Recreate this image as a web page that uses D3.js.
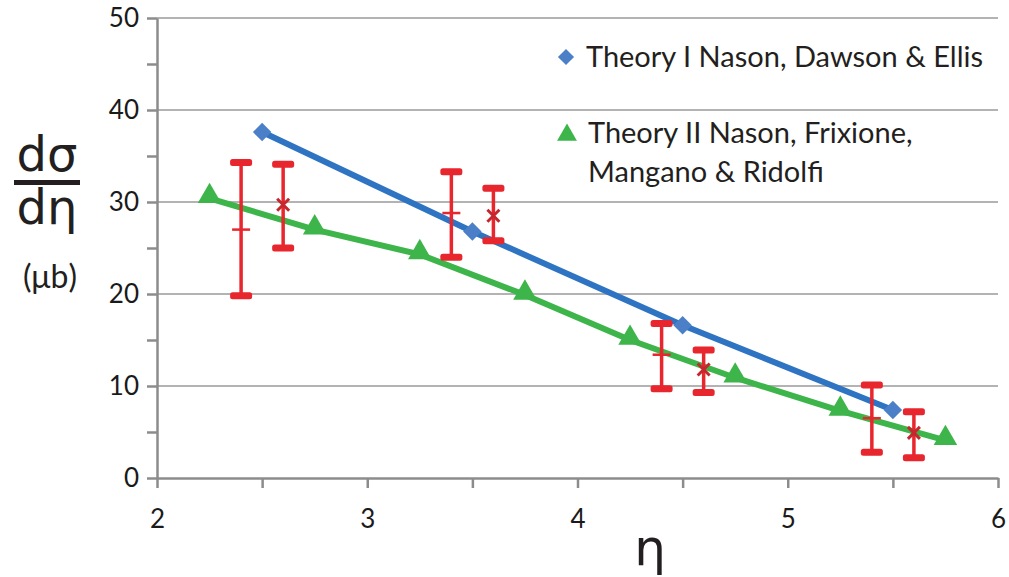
<!DOCTYPE html>
<html>
<head>
<meta charset="utf-8">
<script src="https://cdn.jsdelivr.net/npm/d3@7"></script>
<style>
  html, body { margin: 0; padding: 0; background: #fff; }
  svg { display: block; font-family: Lato, "Open Sans", sans-serif; }
</style>
</head>
<body>
<svg id="chart" width="1009" height="577"></svg>
<script>
// Theory I (Nason, Dawson & Ellis)
const theory1Eta = [2.5, 3.5, 4.5, 5.5];
const theory1Val = [37.6, 26.8, 16.6, 7.4];

// Theory II (Nason, Frixione, Mangano & Ridolfi)
const theory2Eta = [2.25, 2.75, 3.25, 3.75, 4.25, 4.75, 5.25, 5.75];
const theory2Val = [30.4, 27.0, 24.3, 19.9, 15.0, 10.9, 7.3, 4.1];

// Measurements with error bars: "+" marked points
const plusEta  = [2.4, 3.4, 4.4, 5.4];
const plusVal  = [27.0, 28.8, 13.4, 6.5];
const plusHigh = [34.3, 33.3, 16.8, 10.1];
const plusLow  = [19.8, 24.0, 9.7, 2.8];

// Measurements with error bars: "x" marked points
const crossEta  = [2.6, 3.6, 4.6, 5.6];
const crossVal  = [29.7, 28.5, 11.8, 4.9];
const crossHigh = [34.1, 31.5, 13.9, 7.2];
const crossLow  = [25.0, 25.8, 9.3, 2.2];

const xTicks = [2, 3, 4, 5, 6];
const xMinorTicks = [2.5, 3.5, 4.5, 5.5];
const yTicks = [0, 10, 20, 30, 40, 50];
const yMinorTicks = [5, 15, 25, 35, 45];

const legendLabels = ["Theory I Nason, Dawson & Ellis", "Theory II Nason, Frixione,", "Mangano & Ridolfi"];

const svg = d3.select("#chart");
const x = d3.scaleLinear().domain([2, 6]).range([157, 998]);
const y = d3.scaleLinear().domain([0, 50]).range([478, 18]);

const gray = "#8c8c8c";
const blue = "#2f74c2";
const blueMark = "#4b80c8";
const green = "#3db54a";
const red = "#e8262d";
const darkRed = "#c4272e";

// horizontal gridlines
svg.append("g").selectAll("line").data(yTicks.filter(d => d > 0)).join("line")
  .attr("x1", x(2)).attr("x2", x(6))
  .attr("y1", d => y(d)).attr("y2", d => y(d))
  .attr("stroke", "#9a9a9a").attr("stroke-width", 1.6);

// y axis
svg.append("g").attr("transform", `translate(${x(2)},0)`)
  .call(d3.axisLeft(y).tickValues(yTicks).tickFormat(d3.format("d")).tickSize(10).tickSizeOuter(0).tickPadding(8));
svg.append("g").attr("transform", `translate(${x(2)},0)`)
  .call(d3.axisLeft(y).tickValues(yMinorTicks).tickSize(10).tickSizeOuter(0).tickFormat(""))
  .select(".domain").remove();

// x axis
svg.append("g").attr("transform", `translate(0,${y(0)})`)
  .call(d3.axisBottom(x).tickValues(xTicks).tickFormat(d3.format("d")).tickSize(10).tickSizeOuter(0).tickPadding(22));
svg.append("g").attr("transform", `translate(0,${y(0)})`)
  .call(d3.axisBottom(x).tickValues(xMinorTicks).tickSize(10).tickSizeOuter(0).tickFormat(""))
  .select(".domain").remove();

svg.selectAll(".domain, .tick line").attr("stroke", gray).attr("stroke-width", 2.5);
svg.selectAll(".tick text").attr("fill", "#1a1a1a").attr("font-size", 26)
  .attr("font-family", "Lato, sans-serif");

// theory curves
const line = d3.line().x(d => x(d[0])).y(d => y(d[1]));
const t1 = theory1Eta.map((e, i) => [e, theory1Val[i]]);
const t2 = theory2Eta.map((e, i) => [e, theory2Val[i]]);

svg.append("path").datum(t2).attr("d", line)
  .attr("fill", "none").attr("stroke", green).attr("stroke-width", 6).attr("stroke-linejoin", "round");
svg.append("path").datum(t1).attr("d", line)
  .attr("fill", "none").attr("stroke", blue).attr("stroke-width", 6).attr("stroke-linejoin", "round");

const tri = d3.symbol().type(d3.symbolTriangle).size(240);
const dia = d3.symbol().type(d3.symbolSquare).size(170);

svg.append("g").selectAll("path").data(t2).join("path")
  .attr("d", tri)
  .attr("transform", d => `translate(${x(d[0])},${y(d[1]) - 2})`)
  .attr("fill", green);
svg.append("g").selectAll("path").data(t1).join("path")
  .attr("d", dia)
  .attr("transform", d => `translate(${x(d[0])},${y(d[1])}) rotate(45)`)
  .attr("fill", blueMark);

// error bars
function errorBars(etas, highs, lows) {
  const g = svg.append("g");
  etas.forEach((e, i) => {
    const cx = x(e);
    g.append("line").attr("x1", cx).attr("x2", cx)
      .attr("y1", y(highs[i])).attr("y2", y(lows[i]))
      .attr("stroke", red).attr("stroke-width", 3.5);
    [highs[i], lows[i]].forEach(v => {
      g.append("rect").attr("x", cx - 11).attr("y", y(v) - 3.5)
        .attr("width", 22).attr("height", 7).attr("rx", 2.5)
        .attr("fill", red);
    });
  });
  return g;
}

errorBars(plusEta, plusHigh, plusLow);
errorBars(crossEta, crossHigh, crossLow);

// "+" centre marks
svg.append("g").selectAll("line").data(plusEta).join("line")
  .attr("x1", d => x(d) - 9).attr("x2", d => x(d) + 9)
  .attr("y1", (d, i) => y(plusVal[i])).attr("y2", (d, i) => y(plusVal[i]))
  .attr("stroke", red).attr("stroke-width", 2.5);

// "x" centre marks
const cross = svg.append("g");
crossEta.forEach((e, i) => {
  const cx = x(e), cy = y(crossVal[i]), s = 6;
  cross.append("path")
    .attr("d", `M${cx - s},${cy - s}L${cx + s},${cy + s}M${cx - s},${cy + s}L${cx + s},${cy - s}`)
    .attr("stroke", darkRed).attr("stroke-width", 3).attr("fill", "none");
});

// legend
const legend = svg.append("g");
legend.append("path").attr("d", d3.symbol().type(d3.symbolSquare).size(130))
  .attr("transform", "translate(566,57) rotate(45)").attr("fill", blueMark);
legend.append("path").attr("d", d3.symbol().type(d3.symbolTriangle).size(170))
  .attr("transform", "translate(567,135)").attr("fill", green);
legend.append("text").attr("x", 586).attr("y", 67).text(legendLabels[0]);
legend.append("text").attr("x", 588).attr("y", 143).text(legendLabels[1]);
legend.append("text").attr("x", 588).attr("y", 182).text(legendLabels[2]);
legend.selectAll("text").attr("font-size", 29).attr("fill", "#231f20");

// axis titles
svg.append("text").attr("x", 650).attr("y", 565).attr("text-anchor", "middle")
  .attr("font-size", 50).attr("fill", "#231f20").attr("font-family", "'DejaVu Sans', sans-serif")
  .text("η");

const yt = svg.append("g").attr("fill", "#231f20").attr("font-family", "'DejaVu Sans', sans-serif");
yt.append("text").attr("x", 47).attr("y", 171).attr("text-anchor", "middle").attr("font-size", 48).text("dσ");
yt.append("rect").attr("x", 14).attr("y", 180).attr("width", 66).attr("height", 5);
yt.append("text").attr("x", 47).attr("y", 224).attr("text-anchor", "middle").attr("font-size", 48).text("dη");
yt.append("text").attr("x", 50).attr("y", 288).attr("text-anchor", "middle").attr("font-size", 32)
  .attr("font-family", "Lato, sans-serif").text("(μb)");
</script>
</body>
</html>
